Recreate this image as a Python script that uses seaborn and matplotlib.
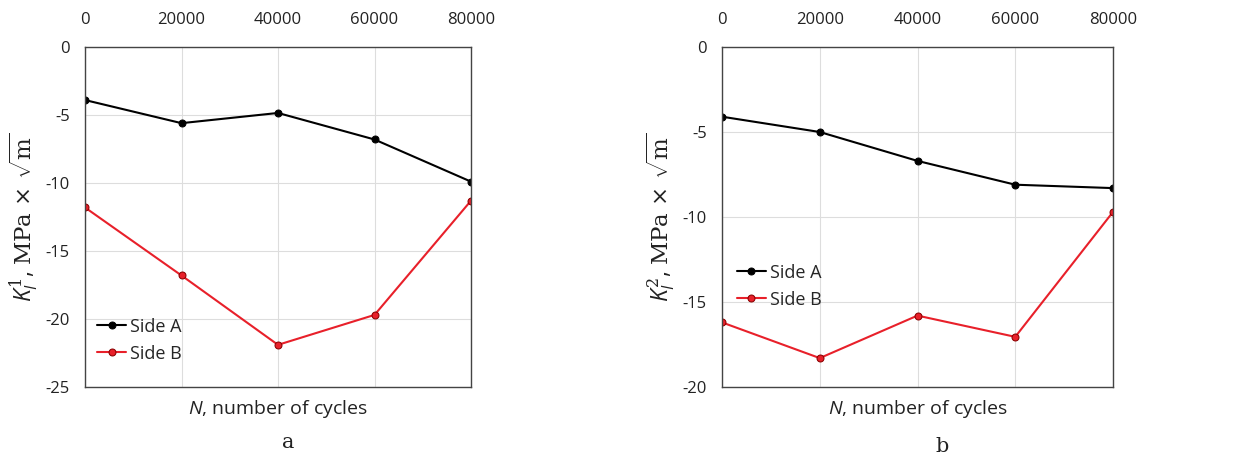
import numpy as np
import pandas as pd
import matplotlib.pyplot as plt
import seaborn as sns

# cycles and stress intensity values
cycles = [0, 20000, 40000, 60000, 80000]
k1_side_a = [-3.9, -5.6, -4.85, -6.8, -9.9]
k1_side_b = [-11.8, -16.8, -21.9, -19.7, -11.3]
k2_side_a = [-4.1, -5.0, -6.7, -8.1, -8.3]
k2_side_b = [-16.2, -18.3, -15.8, -17.05, -9.7]
x_ticks = [0, 20000, 40000, 60000, 80000]

sns.set_theme(style="whitegrid")
plt.rcParams['font.family'] = ['Open Sans', 'DejaVu Sans']
plt.rcParams['axes.unicode_minus'] = False
plt.rcParams['mathtext.fontset'] = 'custom'
plt.rcParams['mathtext.it'] = 'Open Sans:italic'
plt.rcParams['mathtext.rm'] = 'DejaVu Serif'
plt.rcParams['mathtext.cal'] = 'DejaVu Serif'


def make_frame(side_a, side_b):
    df = pd.DataFrame({'N': cycles * 2,
                       'K': side_a + side_b,
                       'side': ['Side A'] * len(cycles) + ['Side B'] * len(cycles)})
    return df


def draw_panel(ax, df, ylim, yticks, ylabel, legend_loc):
    sns.lineplot(data=df, x='N', y='K', hue='side', palette={'Side A': 'black', 'Side B': '#e8202a'},
                 marker='o', markersize=5, linewidth=1.5, ax=ax, legend=False)
    ax.lines[0].set_markeredgecolor('black')
    ax.lines[1].set_markeredgecolor('#8a0000')
    ax.set_xlim(0, 80000)
    ax.set_ylim(*ylim)
    ax.set_yticks(yticks)
    ax.set_xticks(x_ticks)
    ax.xaxis.tick_top()
    ax.tick_params(axis='x', labelsize=12, colors='#222222', length=0, pad=14)
    ax.tick_params(axis='y', labelsize=12, colors='#222222', length=0, pad=11)
    ax.grid(color='#dddddd', linewidth=0.8)
    for s in ax.spines.values():
        s.set_color('#444444')
        s.set_linewidth(1.0)
    ax.set_ylabel(ylabel, fontsize=16.5, color='#222222', labelpad=4)
    ax.set_xlabel('$N$, number of cycles', fontsize=14, labelpad=8, color='#222222')
    ax.xaxis.set_label_position('bottom')
    ax.legend(ax.lines[:2], ['Side A', 'Side B'], loc='center left', bbox_to_anchor=legend_loc,
              frameon=False, fontsize=13, handlelength=1.6, handletextpad=0.2, borderaxespad=0)


fig = plt.figure(figsize=(12.4, 4.59), dpi=100)
ax1 = fig.add_axes([85 / 1240, 1 - 387 / 459, 386 / 1240, 340 / 459])
ax2 = fig.add_axes([722 / 1240, 1 - 387 / 459, 391 / 1240, 340 / 459])

draw_panel(ax1, make_frame(k1_side_a, k1_side_b), (-25, 0), [0, -5, -10, -15, -20, -25],
           '$K_I^1$, $\\mathrm{MPa}\\,\\times\\,\\sqrt{\\mathrm{m}}$', (0.013, 0.138))
draw_panel(ax2, make_frame(k2_side_a, k2_side_b), (-20, 0), [0, -5, -10, -15, -20],
           '$K_I^2$, $\\mathrm{MPa}\\,\\times\\,\\sqrt{\\mathrm{m}}$', (0.02, 0.297))

fig.text(288 / 1240, 1 - 443 / 459, 'a', ha='center', va='center', fontsize=15,
         family='DejaVu Serif', color='#222222')
fig.text(942 / 1240, 1 - 446 / 459, 'b', ha='center', va='center', fontsize=15,
         family='DejaVu Serif', color='#222222')

fig.savefig('out.png', dpi=100)
